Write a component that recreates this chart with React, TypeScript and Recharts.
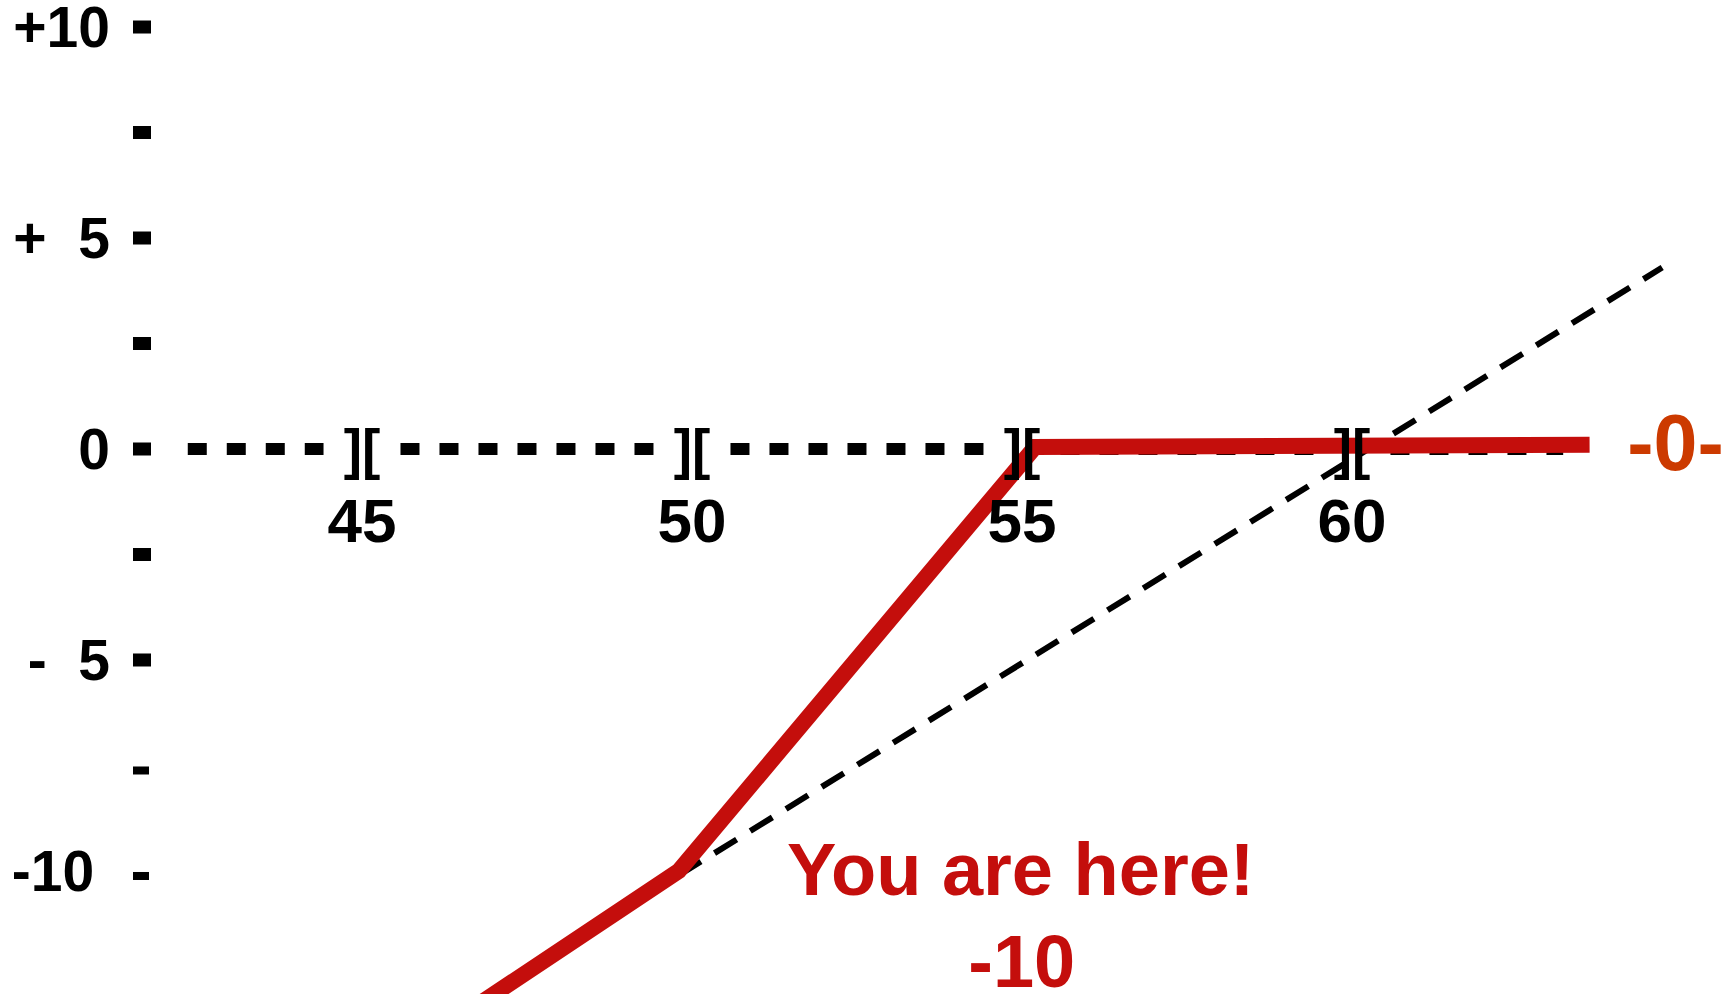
import { LineChart, Line, XAxis, YAxis, ReferenceLine, ReferenceDot } from "recharts"

// axis ticks
const xTicks = [45, 50, 55, 60]
const yTicks = [10, 7.5, 5, 2.5, 0, -2.5, -5, -7.5, -10]
const yTickLabels = ["+10", "", "+  5", "", "0", "", "-  5", "", "-10 "]

// actual path, bending at the "you are here" point
const pathX = [45, 49.8, 55.2, 63.6]
const pathY = [-15, -10, 0.05, 0.1]

// straight trend through the bend, crossing zero near 60
const trendX = [49.8, 64.7]
const trendY = [-10.1, 4.3]

// extent of the dotted zero line
const zeroFrom = 42.36
const zeroTo = 63.2

const hereIndex = 1

const W = 1733
const H = 994
const X_DOMAIN: [number, number] = [41.818, 65.773]
const Y_DOMAIN: [number, number] = [-12.915, 10.64]
const AXIS_W = 152
const BRACKET_GAP = 0.583

const FONT = "'Liberation Sans', Arial, Helvetica, sans-serif"
const RED = "#c40e0c"
const ORANGE = "#cc3a00"

const pathData = pathX.map((x, i) => ({ x, y: pathY[i] }))
const trendData = trendX.map((x, i) => ({ x, y: trendY[i] }))

// dotted zero line, broken at each tick where the ][ marker sits
const zeroEdges = [zeroFrom, ...xTicks.flatMap(t => [t - BRACKET_GAP, t + BRACKET_GAP]), zeroTo]
const zeroRuns: [number, number][] = []
for (let i = 0; i < zeroEdges.length; i += 2) zeroRuns.push([zeroEdges[i], zeroEdges[i + 1]])

function YTick({ y, payload }: any) {
  const label = yTickLabels[yTicks.indexOf(payload.value)] ?? ""
  const thin = payload.value <= -7.5
  return (
    <g>
      <text
        x={110}
        y={y}
        dy={20}
        textAnchor="end"
        fontFamily={FONT}
        fontWeight="bold"
        fontSize={57}
        fill="#000"
        xmlSpace="preserve"
        style={{ whiteSpace: "pre" }}
      >
        {label}
      </text>
      <rect
        x={133}
        y={thin ? y + 1 : y - 6.5}
        width={thin ? 16 : 18}
        height={thin ? 8 : 13}
        fill="#000"
      />
    </g>
  )
}

function tickMarker(value: number) {
  return ({ cx, cy }: any) => (
    <g>
      <text x={cx} y={cy + 19.5} textAnchor="middle" fontFamily={FONT} fontWeight="bold" fontSize={55} fill="#000">
        ][
      </text>
      <text x={cx} y={cy + 93} textAnchor="middle" fontFamily={FONT} fontWeight="bold" fontSize={62} fill="#000">
        {value}
      </text>
    </g>
  )
}

function HereLabel({ cx, cy }: any) {
  return (
    <g fontFamily={FONT} fontWeight="bold" fill={RED} textAnchor="middle" fontSize={74}>
      <text x={cx + 342} y={cy + 24}>You are here!</text>
      <text x={cx + 343} y={cy + 116}>{pathY[hereIndex]}</text>
    </g>
  )
}

function EndLabel({ cx, cy }: any) {
  const v = pathY[pathY.length - 1]
  return (
    <text
      x={cx + 86}
      y={cy + 25}
      textAnchor="middle"
      fontFamily={FONT}
      fontWeight="bold"
      fontSize={79}
      fill={ORANGE}
    >
      -{Math.abs(v).toFixed(0)}-
    </text>
  )
}

export default function App() {
  return (
    <div style={{ position: "absolute", left: 0, top: 0, width: W, height: H, background: "#fff" }}>
      <LineChart width={W} height={H} margin={{ top: 0, right: 0, bottom: 0, left: 0 }}>
        <XAxis type="number" dataKey="x" domain={X_DOMAIN} allowDataOverflow hide />
        <YAxis
          type="number"
          dataKey="y"
          domain={Y_DOMAIN}
          allowDataOverflow
          ticks={yTicks}
          interval={0}
          width={AXIS_W}
          axisLine={false}
          tickLine={false}
          tick={<YTick />}
        />
        {zeroRuns.map(([a, b], i) => (
          <ReferenceLine
            key={"z" + i}
            segment={[{ x: a, y: 0 }, { x: b, y: 0 }]}
            stroke="#000"
            strokeWidth={12}
            strokeDasharray="19 20"
          />
        ))}
        {xTicks.map(t => (
          <ReferenceDot key={"t" + t} x={t} y={0} r={0} shape={tickMarker(t)} />
        ))}
        <Line
          data={trendData}
          dataKey="y"
          type="linear"
          stroke="#000"
          strokeWidth={6}
          strokeDasharray="26 16"
          dot={false}
          activeDot={false}
          isAnimationActive={false}
        />
        <Line
          data={pathData}
          dataKey="y"
          type="linear"
          stroke={RED}
          strokeWidth={16}
          strokeLinejoin="miter"
          dot={false}
          activeDot={false}
          isAnimationActive={false}
        />
        <ReferenceDot x={pathX[hereIndex]} y={pathY[hereIndex]} r={0} shape={<HereLabel />} />
        <ReferenceDot
          x={pathX[pathX.length - 1]}
          y={pathY[pathY.length - 1]}
          r={0}
          shape={<EndLabel />}
        />
      </LineChart>
    </div>
  )
}
